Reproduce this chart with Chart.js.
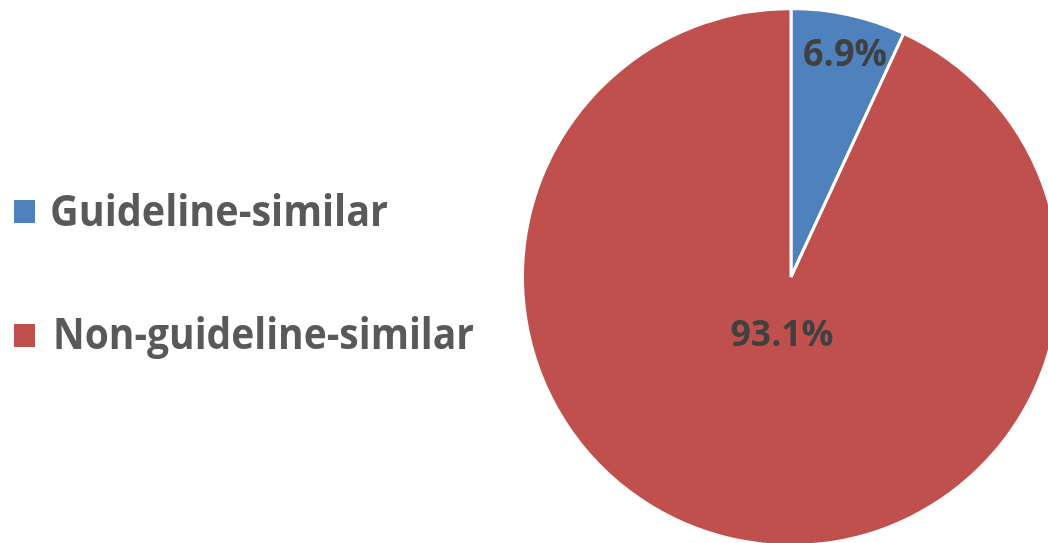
<!DOCTYPE html>
<html>
<head>
<meta charset="utf-8">
<script src="https://cdn.jsdelivr.net/npm/chart.js@4"></script>
<style>
html,body{margin:0;padding:0;background:#fff;overflow:hidden;width:1048px;height:543px;}
canvas{display:block;}
</style>
</head>
<body>
<canvas id="c" width="1072" height="560"></canvas>
<script>
const categories = ["Guideline-similar", "Non-guideline-similar"];
const values = [6.9, 93.1];
const valueLabels = ["6.9%", "93.1%"];
const colors = ["#4F81BD", "#C0504D"];

const FONT = '"Open Sans", "Liberation Sans", sans-serif';
const CAP = 0.714;

function drawFitted(ctx, text, x, baseline, capH, width, align) {
  const size = capH / CAP;
  ctx.font = 'bold ' + size.toFixed(1) + 'px ' + FONT;
  const w = ctx.measureText(text).width;
  const sx = width / w;
  ctx.save();
  ctx.textAlign = 'left';
  ctx.textBaseline = 'alphabetic';
  const left = align === 'center' ? x - width / 2 : x;
  ctx.translate(left, baseline);
  ctx.scale(sx, 1);
  ctx.fillText(text, 0, 0);
  ctx.restore();
}

const overlay = {
  id: 'overlay',
  afterDraw(chart) {
    const ctx = chart.ctx;
    ctx.save();
    const meta = chart.getDatasetMeta(0);
    const fr = [0.86, 0.212];
    const dAng = [1.1, -3.4];
    const targetW = [84, 103];
    const capH = [27, 26];
    ctx.fillStyle = '#404040';
    meta.data.forEach((arc, i) => {
      const p = arc.getProps(['x','y','startAngle','endAngle','outerRadius']);
      const mid = (p.startAngle + p.endAngle) / 2 + dAng[i] * Math.PI / 180;
      const r = p.outerRadius * fr[i];
      const x = p.x + Math.cos(mid) * r;
      const y = p.y + Math.sin(mid) * r;
      drawFitted(ctx, valueLabels[i], x, y + capH[i] / 2, capH[i], targetW[i], 'center');
    });
    const rows = [{sq: 200, txtX: 50, endX: 388, base: 226}, {sq: 324, txtX: 53, endX: 474, base: 349}];
    categories.forEach((c, i) => {
      const row = rows[i];
      ctx.fillStyle = colors[i];
      ctx.fillRect(14, row.sq, 21, 23);
      ctx.fillStyle = '#595959';
      drawFitted(ctx, c, row.txtX, row.base, 31, row.endX - row.txtX, 'left');
    });
    ctx.restore();
  }
};

new Chart(document.getElementById('c'), {
  type: 'pie',
  data: {
    labels: categories,
    datasets: [{
      data: values,
      backgroundColor: colors,
      borderColor: '#ffffff',
      borderWidth: 3
    }]
  },
  options: {
    responsive: false,
    animation: false,
    layout: { padding: { left: 521, top: 7, right: 11, bottom: 13 } },
    plugins: {
      legend: { display: false },
      tooltip: { enabled: false }
    }
  },
  plugins: [overlay]
});
</script>
</body>
</html>
